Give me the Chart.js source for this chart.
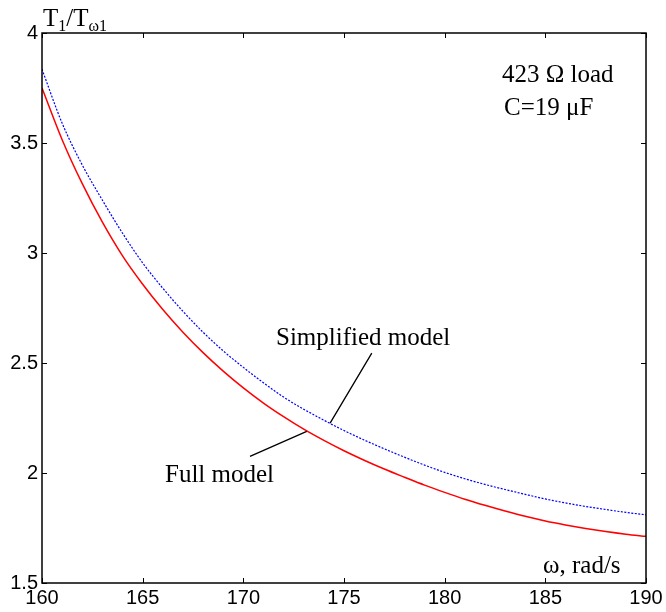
<!DOCTYPE html>
<html>
<head>
<meta charset="utf-8">
<script src="https://cdn.jsdelivr.net/npm/chart.js@4/dist/chart.umd.min.js"></script>
<style>
html,body{margin:0;padding:0;background:#fff;}
#wrap{width:666px;height:612px;position:relative;}
</style>
</head>
<body>
<div id="wrap"><canvas id="c"></canvas></div>
<script>
// ---- data ----
const omega = [160,161,162,163,164,165,166,167,168,169,170,171,172,173,174,175,176,177,178,179,180,181,182,183,184,185,186,187,188,189,190];
const simplifiedModel = [3.835,3.59,3.40,3.24,3.09,2.955,2.84,2.735,2.64,2.555,2.48,2.41,2.345,2.29,2.24,2.193,2.15,2.11,2.072,2.036,2.003,1.974,1.948,1.925,1.903,1.882,1.864,1.848,1.834,1.821,1.810];
const fullModel = [3.75,3.515,3.315,3.14,2.987,2.858,2.743,2.640,2.547,2.463,2.387,2.318,2.256,2.199,2.148,2.101,2.058,2.018,1.981,1.945,1.912,1.881,1.853,1.827,1.803,1.782,1.764,1.748,1.734,1.722,1.712];
const xTicks = [160,165,170,175,180,185,190];
const yTicks = [1.5,2,2.5,3,3.5,4];
const xTickLabels = ['160','165','170','175','180','185','190'];
const yTickLabels = ['1.5','2','2.5','3','3.5','4'];

const serif = '"Liberation Serif", "Times New Roman", serif';
const sans = '"Liberation Sans", Arial, sans-serif';

const decor = {
  id: 'decor',
  afterDraw(chart) {
    const ctx = chart.ctx;
    const a = chart.chartArea;
    const xs = chart.scales.x, ys = chart.scales.y;
    ctx.save();
    // frame
    ctx.strokeStyle = '#000';
    ctx.lineWidth = 1.5;
    ctx.strokeRect(a.left, a.top, a.right - a.left, a.bottom - a.top);
    // inward ticks
    ctx.lineWidth = 1;
    const tl = 5;
    ctx.beginPath();
    xTicks.forEach(v => {
      const px = Math.round(xs.getPixelForValue(v)) + 0.5;
      ctx.moveTo(px, a.bottom); ctx.lineTo(px, a.bottom - tl);
      ctx.moveTo(px, a.top); ctx.lineTo(px, a.top + tl);
    });
    yTicks.forEach(v => {
      const py = Math.round(ys.getPixelForValue(v)) + 0.5;
      ctx.moveTo(a.left, py); ctx.lineTo(a.left + tl, py);
      ctx.moveTo(a.right, py); ctx.lineTo(a.right - tl, py);
    });
    ctx.stroke();

    // leader lines
    ctx.lineWidth = 1.3;
    ctx.beginPath();
    ctx.moveTo(xs.getPixelForValue(176.38), ys.getPixelForValue(2.545));
    ctx.lineTo(xs.getPixelForValue(174.31), ys.getPixelForValue(2.227));
    ctx.moveTo(xs.getPixelForValue(170.33), ys.getPixelForValue(2.076));
    ctx.lineTo(xs.getPixelForValue(173.15), ys.getPixelForValue(2.189));
    ctx.stroke();

    // texts
    ctx.fillStyle = '#000';
    ctx.textBaseline = 'alphabetic';
    ctx.textAlign = 'left';
    ctx.font = '25px ' + serif;
    ctx.fillText('Simplified model', 276, 345);
    ctx.fillText('Full model', 165, 482);
    ctx.fillText('423 \u03A9 load', 502, 82);
    ctx.fillText('C=19 \u03BCF', 504, 115);
    ctx.fillText('\u03C9, rad/s', 543, 573);

    // y title T1/Tω1
    let x = 43; const base = 26;
    const big = '25px ' + serif, small = '16px ' + serif;
    const piece = (t, f, dy) => { ctx.font = f; ctx.fillText(t, x, base + dy); x += ctx.measureText(t).width; };
    piece('T', big, 0);
    piece('1', small, 5);
    piece('/T', big, 0);
    piece('\u03C91', small, 5);
    ctx.restore();
  }
};

new Chart(document.getElementById('c'), {
  type: 'line',
  data: {
    labels: omega,
    datasets: [
      {
        label: 'Simplified model',
        data: omega.map((w, i) => ({x: w, y: simplifiedModel[i]})),
        borderColor: '#0000ff',
        borderWidth: 1.2,
        borderDash: [2, 1.5],
        pointRadius: 0,
        cubicInterpolationMode: 'monotone',
        fill: false
      },
      {
        label: 'Full model',
        data: omega.map((w, i) => ({x: w, y: fullModel[i]})),
        borderColor: '#ff0000',
        borderWidth: 1.5,
        pointRadius: 0,
        cubicInterpolationMode: 'monotone',
        fill: false
      }
    ]
  },
  options: {
    responsive: true,
    maintainAspectRatio: false,
    animation: false,
    layout: { padding: { top: 33, right: 20, left: 0, bottom: 0 } },
    plugins: { legend: { display: false }, tooltip: { enabled: false } },
    scales: {
      x: {
        type: 'linear',
        min: 160, max: 190,
        afterBuildTicks(s) { s.ticks = xTicks.map(v => ({value: v})); },
        afterFit(s) { s.height = 29; },
        grid: { display: false, drawTicks: false },
        border: { display: false },
        ticks: {
          padding: 3,
          color: '#000',
          font: { family: sans, size: 20 },
          maxRotation: 0,
          autoSkip: false,
          callback: (v) => xTickLabels[xTicks.indexOf(v)]
        }
      },
      y: {
        type: 'linear',
        min: 1.5, max: 4,
        afterBuildTicks(s) { s.ticks = yTicks.map(v => ({value: v})); },
        afterFit(s) { s.width = 42; },
        grid: { display: false, drawTicks: false },
        border: { display: false },
        ticks: {
          padding: 4,
          color: '#000',
          font: { family: sans, size: 20 },
          autoSkip: false,
          callback: (v) => yTickLabels[yTicks.indexOf(v)]
        }
      }
    }
  },
  plugins: [decor]
});
</script>
</body>
</html>
